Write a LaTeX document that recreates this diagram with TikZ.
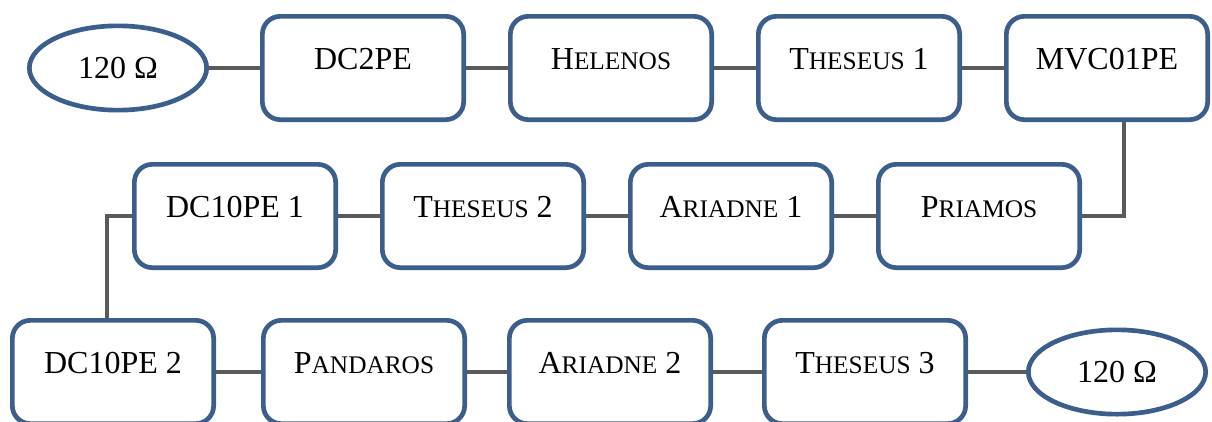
\documentclass[tikz,border=0pt]{standalone}
\usepackage{fontspec}
\setmainfont{Liberation Serif}
\usetikzlibrary{positioning,shapes.geometric}
\definecolor{cbblue}{HTML}{3B5E8C}
\definecolor{cbgrey}{HTML}{5A5A5A}
\newcommand{\capsc}[2]{#1{\fontsize{19}{22}\selectfont#2}}
\tikzset{
  unit/.style={draw=cbblue,fill=white,line width=3.5pt,rounded corners=13.5pt,
               minimum width=151pt,inner xsep=0pt,inner ysep=0pt,
               text height=40pt,text depth=37.5pt,font=\fontsize{24}{28}\selectfont},
  term/.style={draw=cbblue,fill=white,line width=3.5pt,ellipse,inner sep=0pt,
               minimum width=133pt,minimum height=63.25pt,font=\fontsize{24}{28}\selectfont},
  ln/.style={cbgrey,line width=2.6pt},
}
\begin{document}
\begin{tikzpicture}[node distance=31.5pt]
      \path[use as bounding box,clip] (0,0) rectangle (909pt,-315.75pt);
      \node[unit] (dc2) at (272.25pt,-51pt) {DC2PE};
      \node[term,left=38.25pt of dc2] (t1) {120 Ω};
      \node[unit,right=of dc2] (hel) {\capsc{H}{ELENOS}};
      \node[unit,right=of hel] (th1) {\capsc{T}{HESEUS} 1};
      \node[unit,right=of th1] (mvc) {MVC01PE};
      \node[unit] (dca) at (176.25pt,-162pt) {DC10PE 1};
      \node[unit,right=of dca] (th2) {\capsc{T}{HESEUS} 2};
      \node[unit,right=of th2] (ar1) {\capsc{A}{RIADNE} 1};
      \node[unit,right=of ar1] (pri) {\capsc{P}{RIAMOS}};
      \node[unit] (dcb) at (84.75pt,-279pt) {DC10PE 2};
      \node[unit,right=33.75pt of dcb] (pan) {\capsc{P}{ANDAROS}};
      \node[unit,right=30pt of pan] (ar2) {\capsc{A}{RIADNE} 2};
      \node[unit,right=36.75pt of ar2] (th3) {\capsc{T}{HESEUS} 3};
      \node[term,right=43.5pt of th3] (t2) {120 Ω};
      \draw[ln](t1)--(dc2);
      \draw[ln](dc2)--(hel);
      \draw[ln](hel)--(th1);
      \draw[ln](th1)--(mvc);
      \draw[ln]([xshift=12.75pt]mvc.south)|-(pri.east);
      \draw[ln](pri)--(ar1);
      \draw[ln](ar1)--(th2);
      \draw[ln](th2)--(dca);
      \draw[ln](dca.west)-|([xshift=-4.5pt]dcb.north);
      \draw[ln](dcb)--(pan);
      \draw[ln](pan)--(ar2);
      \draw[ln](ar2)--(th3);
      \draw[ln](th3)--(t2);
    \end{tikzpicture}
\end{document}
